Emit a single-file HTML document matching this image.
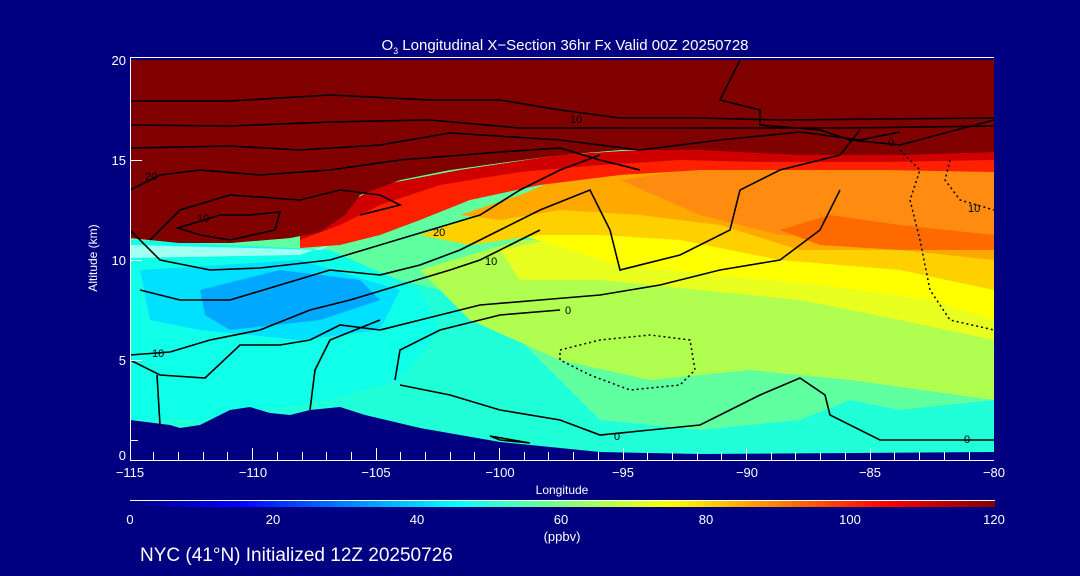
<!DOCTYPE html>
<html><head><style>
html,body{margin:0;padding:0;background:#000080;}
svg{display:block}
text{font-family:"Liberation Sans",sans-serif;fill:#fff}
</style></head><body>
<svg width="1080" height="576" viewBox="0 0 1080 576" xmlns="http://www.w3.org/2000/svg">
<defs>
<linearGradient id="cb" x1="0" x2="1" y1="0" y2="0">
<stop offset="0" stop-color="#000080"/>
<stop offset="0.125" stop-color="#0000ff"/>
<stop offset="0.375" stop-color="#00ffff"/>
<stop offset="0.5" stop-color="#80ff80"/>
<stop offset="0.625" stop-color="#ffff00"/>
<stop offset="0.875" stop-color="#ff0000"/>
<stop offset="1" stop-color="#800000"/>
</linearGradient>
<clipPath id="pc"><rect x="130" y="60" width="864" height="396"/></clipPath>
</defs>
<rect width="1080" height="576" fill="#000080"/>
<g clip-path="url(#pc)">
<rect x="130" y="60" width="864" height="396" fill="#60ffa0"/>
<path d="M130 250 L300 260 L400 280 L480 300 L520 340 L560 380 L600 420 L700 430 L800 420 L850 400 L900 410 L994 400 L994 456 L130 456 Z" fill="#20ffd8"/>
<path d="M130 240 L330 250 L420 290 L440 330 L400 380 L330 400 L200 420 L130 420 Z" fill="#10ffe8"/>
<path d="M130 245 L250 248 L320 250 L340 240 L300 255 L130 258 Z" fill="#a0fff0"/>
<path d="M140 270 L300 260 L400 290 L380 330 L300 340 L200 330 L150 320 Z" fill="#00e0ff"/>
<path d="M200 290 L280 270 L360 280 L380 300 L320 320 L230 330 L205 315 Z" fill="#00a8ff"/>
<path d="M420 270 L520 240 L700 240 L994 240 L994 400 L850 380 L750 370 L650 380 L560 360 L470 320 Z" fill="#b0ff50"/>
<path d="M500 250 L620 225 L760 240 L994 260 L994 340 L900 320 L800 300 L700 290 L600 280 L520 280 Z" fill="#e8ff20"/>
<path d="M520 235 L620 200 L800 210 L994 240 L994 320 L930 300 L820 285 L720 275 L620 265 Z" fill="#ffff00"/>
<path d="M420 235 L480 215 L560 180 L700 168 L994 165 L994 290 L900 270 L780 260 L680 240 L600 235 L540 235 L470 245 Z" fill="#ffd000"/>
<path d="M460 215 L520 195 L580 170 L700 165 L994 165 L994 260 L900 250 L800 250 L720 225 L640 215 L560 210 L500 220 Z" fill="#ffa800"/>
<path d="M620 180 L700 168 L994 165 L994 240 L900 240 L780 235 L700 215 Z" fill="#ff8c10"/>
<path d="M780 230 L830 215 L900 225 L994 235 L994 250 L900 250 L820 245 Z" fill="#ff6a00"/>
<!-- red band -->
<path d="M300 235 L345 205 L380 185 L460 170 L560 155 L640 150 L994 150 L994 172 L880 170 L780 170 L700 170 L620 175 L540 185 L470 200 L420 220 L380 235 L340 245 L300 248 Z" fill="#ff2000"/>
<path d="M300 235 L345 205 L380 185 L460 170 L560 155 L640 150 L994 150 L994 160 L880 162 L760 162 L680 160 L600 165 L520 172 L440 185 L380 205 L340 225 L300 240 Z" fill="#d00000"/>
<!-- dark red top -->
<path d="M130 60 L994 60 L994 152 L900 155 L800 155 L700 150 L620 150 L560 155 L500 163 L450 170 L400 180 L360 195 L345 215 L320 232 L290 238 L230 243 L180 243 L130 238 Z" fill="#800000"/>
<path d="M130 60 L994 60 L994 152 L900 155 L800 155 L700 150 L620 150 L560 155 L500 163 L450 170 L400 180 L360 195 L345 215 L320 232 L290 238 L230 243 L180 243 L130 238 Z" fill="#800000"/>
<!-- terrain -->
<path d="M130 420 L170 425 L180 428 L200 425 L230 410 L250 407 L270 413 L290 415 L310 410 L340 407 L365 415 L420 428 L500 442 L600 452 L700 454 L994 452 L994 456 L130 456 Z" fill="#000080"/>
<g fill="none" stroke="#000" stroke-width="1.6">
<path d="M130 101 L230 101 L330 95 L430 100 L500 100 L560 110 L620 118 L700 118 L780 120 L994 118"/>
<path d="M130 125 L230 126 L330 122 L430 120 L520 128 L600 128 L700 128 L850 128 L994 126"/>
<path d="M130 148 L230 146 L300 150 L380 145 L450 133 L560 140 L640 150 L720 140 L800 132 L860 140 L900 132"/>
<path d="M130 190 L160 175 L200 170 L260 175 L330 170 L400 160 L500 152 L560 148 L600 160 L640 170"/>
<path d="M150 240 L180 210 L230 195 L300 200 L340 190 L380 195 L400 205 L360 215"/>
<path d="M178 228 L220 215 L250 215 L280 212 L275 230 L230 240 L200 235 Z"/>
<path d="M130 230 L160 260 L210 270 L260 268 L330 260 L380 245 L430 230 L480 215 L520 190 L560 170 L600 155"/>
<path d="M140 290 L180 300 L230 300 L280 285 L330 270 L380 275 L420 265 L460 250 L500 230 L540 210 L590 190 L610 230 L620 270 L680 255 L730 230 L740 190 L780 170 L840 155 L860 130"/>
<path d="M130 355 L170 352 L210 340 L260 330 L310 310 L350 300 L400 285 L450 270 L480 260 L510 245 L540 230"/>
<path d="M130 360 L160 375 L205 378 L240 345 L280 345 L310 340 L340 325 L380 330 L420 320 L480 305 L540 300 L600 295 L660 285 L720 270 L780 260 L820 230 L840 190"/>
<path d="M157 375 L160 425"/>
<path d="M310 410 L315 370 L330 340 L380 320"/>
<path d="M395 380 L400 350 L440 330 L500 315 L560 310"/>
<path d="M400 385 L450 395 L500 410 L560 420 L600 435 L700 425 L760 395 L800 378 L825 395 L830 415 L880 440 L994 440"/>
<path d="M740 60 L720 100 L760 110 L760 125 L820 130 L850 140 L900 145 L994 120"/>
<path d="M490 436 L530 443 L500 440 Z"/>
</g>
<g fill="none" stroke="#000" stroke-width="1.5" stroke-dasharray="2,3">
<path d="M560 350 L600 340 L650 335 L690 340 L695 370 L680 385 L630 390 L590 375 L560 360 Z"/>
<path d="M900 150 L920 170 L910 200 L920 240 L930 290 L950 320 L994 330"/>
<path d="M950 160 L945 180 L960 200 L994 210"/>
</g>
</g>
<g font-size="11">
<text x="570" y="123" style="fill:#000">10</text>
<text x="145" y="180" style="fill:#000">20</text>
<text x="197" y="222" style="fill:#000">10</text>
<text x="433" y="236" style="fill:#000">20</text>
<text x="485" y="265" style="fill:#000">10</text>
<text x="565" y="314" style="fill:#000">0</text>
<text x="152" y="357" style="fill:#000">10</text>
<text x="614" y="440" style="fill:#000">0</text>
<text x="964" y="443" style="fill:#000">0</text>
<text x="888" y="146" style="fill:#000">0</text>
<text x="968" y="212" style="fill:#000">10</text>
</g>
<g stroke="#fff" stroke-width="1">
<line x1="130" y1="57.5" x2="994" y2="57.5"/>
<line x1="130.5" y1="57" x2="130.5" y2="460"/>
<line x1="130" y1="460.5" x2="994" y2="460.5"/>
<path d="M130 440.5h8M130 360.5h12M130 260.5h12M130 160.5h12"/>
<path d="M153.5 460v-8M178.5 460v-8M203.5 460v-8M227.5 460v-8M252.5 460v-12M277.5 460v-8M302.5 460v-8M326.5 460v-8M351.5 460v-8M376.5 460v-12M400.5 460v-8M425.5 460v-8M450.5 460v-8M474.5 460v-8M499.5 460v-12M524.5 460v-8M548.5 460v-8M573.5 460v-8M598.5 460v-8M623.5 460v-12M647.5 460v-8M672.5 460v-8M697.5 460v-8M721.5 460v-8M746.5 460v-12M771.5 460v-8M795.5 460v-8M820.5 460v-8M845.5 460v-8M870.5 460v-12M894.5 460v-8M919.5 460v-8M944.5 460v-8M969.5 460v-8"/>
</g>
<g font-size="13" text-anchor="end">
<text x="126" y="65">20</text>
<text x="126" y="165">15</text>
<text x="126" y="265">10</text>
<text x="126" y="365">5</text>
<text x="126" y="460">0</text>
</g>
<g font-size="13" text-anchor="middle">
<text x="130" y="477">−115</text>
<text x="253" y="477">−110</text>
<text x="376" y="477">−105</text>
<text x="500" y="477">−100</text>
<text x="623" y="477">−95</text>
<text x="747" y="477">−90</text>
<text x="870" y="477">−85</text>
<text x="994" y="477">−80</text>
</g>
<text x="562" y="494" font-size="12" text-anchor="middle">Longitude</text>
<text x="97" y="258" font-size="12" text-anchor="middle" transform="rotate(-90 97 258)">Altitude (km)</text>
<text x="565" y="50" font-size="15" text-anchor="middle">O<tspan font-size="9" dy="4">3</tspan><tspan dy="-4"> Longitudinal X−Section 36hr  Fx Valid 00Z 20250728</tspan></text>
<line x1="130" y1="500.5" x2="995" y2="500.5" stroke="#fff"/>
<rect x="130" y="501" width="865" height="6" fill="url(#cb)"/>
<g font-size="13" text-anchor="middle">
<text x="130" y="524">0</text>
<text x="273" y="524">20</text>
<text x="417" y="524">40</text>
<text x="561" y="524">60</text>
<text x="706" y="524">80</text>
<text x="850" y="524">100</text>
<text x="994" y="524">120</text>
<text x="562" y="541">(ppbv)</text>
</g>
<text x="140" y="561" font-size="19">NYC (41°N) Initialized 12Z 20250726</text>
</svg>
</body></html>
